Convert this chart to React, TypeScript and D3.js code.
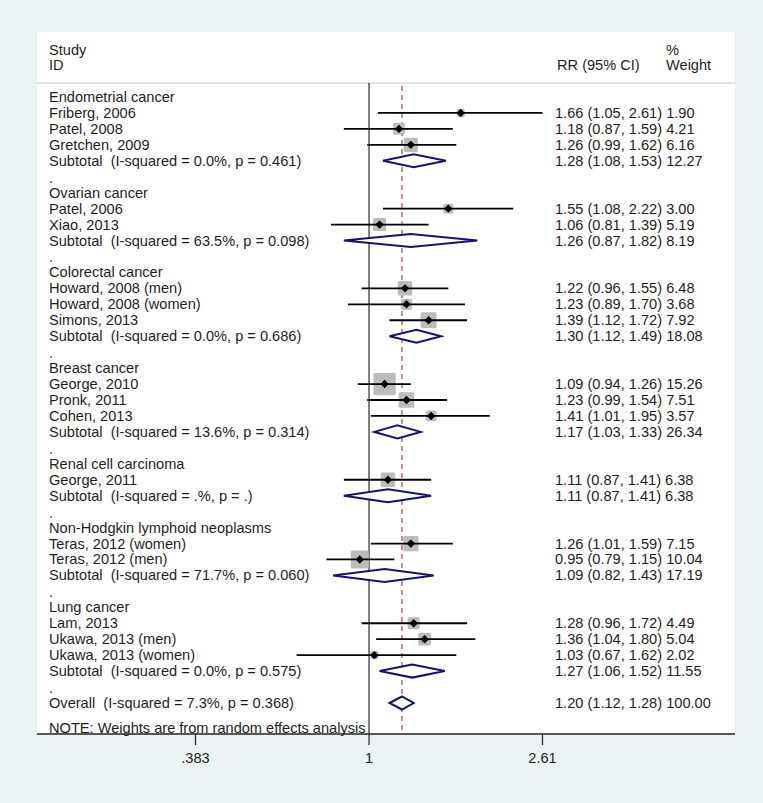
import React from "react";
import * as d3 from "d3";

const groupNames = [
  "Endometrial cancer",
  "Ovarian cancer",
  "Colorectal cancer",
  "Breast cancer",
  "Renal cell carcinoma",
  "Non-Hodgkin lymphoid neoplasms",
  "Lung cancer",
];

const studyLabels = [
  "Friberg, 2006", "Patel, 2008", "Gretchen, 2009",
  "Patel, 2006", "Xiao, 2013",
  "Howard, 2008 (men)", "Howard, 2008 (women)", "Simons, 2013",
  "George, 2010", "Pronk, 2011", "Cohen, 2013",
  "George, 2011",
  "Teras, 2012 (women)", "Teras, 2012 (men)",
  "Lam, 2013", "Ukawa, 2013 (men)", "Ukawa, 2013 (women)",
];
const studyGroup = [0, 0, 0, 1, 1, 2, 2, 2, 3, 3, 3, 4, 5, 5, 6, 6, 6];
const studyRR = [1.66, 1.18, 1.26, 1.55, 1.06, 1.22, 1.23, 1.39, 1.09, 1.23, 1.41, 1.11, 1.26, 0.95, 1.28, 1.36, 1.03];
const studyLo = [1.05, 0.87, 0.99, 1.08, 0.81, 0.96, 0.89, 1.12, 0.94, 0.99, 1.01, 0.87, 1.01, 0.79, 0.96, 1.04, 0.67];
const studyHi = [2.61, 1.59, 1.62, 2.22, 1.39, 1.55, 1.70, 1.72, 1.26, 1.54, 1.95, 1.41, 1.59, 1.15, 1.72, 1.80, 1.62];
const studyWeight = [1.90, 4.21, 6.16, 3.00, 5.19, 6.48, 3.68, 7.92, 15.26, 7.51, 3.57, 6.38, 7.15, 10.04, 4.49, 5.04, 2.02];

const subLabels = [
  "Subtotal  (I-squared = 0.0%, p = 0.461)",
  "Subtotal  (I-squared = 63.5%, p = 0.098)",
  "Subtotal  (I-squared = 0.0%, p = 0.686)",
  "Subtotal  (I-squared = 13.6%, p = 0.314)",
  "Subtotal  (I-squared = .%, p = .)",
  "Subtotal  (I-squared = 71.7%, p = 0.060)",
  "Subtotal  (I-squared = 0.0%, p = 0.575)",
];
const subRR = [1.28, 1.26, 1.30, 1.17, 1.11, 1.09, 1.27];
const subLo = [1.08, 0.87, 1.12, 1.03, 0.87, 0.82, 1.06];
const subHi = [1.53, 1.82, 1.49, 1.33, 1.41, 1.43, 1.52];
const subWeight = [12.27, 8.19, 18.08, 26.34, 6.38, 17.19, 11.55];

const overallLabel = "Overall  (I-squared = 7.3%, p = 0.368)";
const overallRR = 1.20;
const overallLo = 1.12;
const overallHi = 1.28;
const overallWeight = 100.0;

const axisTicks = [0.383, 1, 2.61];
const axisTickLabels = [".383", "1", "2.61"];
const noteText = "NOTE: Weights are from random effects analysis";

type Row =
  | { kind: "head"; label: string }
  | { kind: "study"; label: string; rr: number; lo: number; hi: number; w: number }
  | { kind: "sub"; label: string; rr: number; lo: number; hi: number; w: number }
  | { kind: "dot" };

function buildRows(): Row[] {
  const rows: Row[] = [];
  groupNames.forEach((g, gi) => {
    rows.push({ kind: "head", label: g });
    studyLabels.forEach((s, si) => {
      if (studyGroup[si] === gi)
        rows.push({ kind: "study", label: s, rr: studyRR[si], lo: studyLo[si], hi: studyHi[si], w: studyWeight[si] });
    });
    rows.push({ kind: "sub", label: subLabels[gi], rr: subRR[gi], lo: subLo[gi], hi: subHi[gi], w: subWeight[gi] });
    rows.push({ kind: "dot" });
  });
  rows.push({ kind: "sub", label: overallLabel, rr: overallRR, lo: overallLo, hi: overallHi, w: overallWeight });
  return rows;
}

const fmt = (v: number) => v.toFixed(2);

export default function App() {
  const W = 763, H = 803;
  const panel = { x0: 37, x1: 735, y0: 32, y1: 734 };
  const headerLineY = 83;
  const rows = buildRows();
  const rowY = d3.scaleLinear().domain([0, 38]).range([97, 703]);
  const x = d3.scaleLog().domain([0.383, 2.61]).range([195.5, 542.5]);
  const textX = 49;
  const ciX = 555;
  const font = "'Liberation Sans', Arial, Helvetica, sans-serif";
  const fs = 14.6;
  const textColor = "#1e1e1e";
  const boxK = 5.7;
  const navy = "#14146e";

  return (
    <svg width={W} height={H} style={{ position: "absolute", left: 0, top: 0, display: "block" }}>
      <rect x={0} y={0} width={W} height={H} fill="#eaf2f3" />
      <rect x={panel.x0} y={panel.y0} width={panel.x1 - panel.x0} height={panel.y1 - panel.y0} fill="#ffffff" />

      <g fontFamily={font} fontSize={fs} fill={textColor}>
        <text x={textX} y={50} dominantBaseline="central">Study</text>
        <text x={textX} y={65} dominantBaseline="central">ID</text>
        <text x={ciX + 2} y={65} dominantBaseline="central">RR (95% CI)</text>
        <text x={666} y={50} dominantBaseline="central">%</text>
        <text x={666} y={65} dominantBaseline="central">Weight</text>
      </g>
      <line x1={panel.x0} x2={panel.x1} y1={headerLineY} y2={headerLineY} stroke="#c4c8c8" strokeWidth={1.2} />

      {/* null line */}
      <line x1={x(1)} x2={x(1)} y1={headerLineY} y2={panel.y1} stroke="#2a2a2a" strokeWidth={1.2} />
      {/* overall dashed line */}
      <line x1={x(overallRR)} x2={x(overallRR)} y1={headerLineY + 3} y2={panel.y1} stroke="#a84848" strokeWidth={1.2} strokeDasharray="5,4" />

      {rows.map((r, i) => {
        const y = rowY(i);
        if (r.kind === "dot") {
          return (
            <text key={i} x={textX} y={y + 1} dominantBaseline="central" fontFamily={font} fontSize={fs} fill={textColor}>.</text>
          );
        }
        if (r.kind === "head") {
          return (
            <text key={i} x={textX} y={y} dominantBaseline="central" fontFamily={font} fontSize={fs} fill={textColor}>{r.label}</text>
          );
        }
        const ci = `${fmt(r.rr)} (${fmt(r.lo)}, ${fmt(r.hi)}) ${fmt(r.w)}`;
        const labelEl = (
          <text x={textX} y={y} dominantBaseline="central" fontFamily={font} fontSize={fs} fill={textColor} style={{ whiteSpace: "pre" }}>{r.label}</text>
        );
        const ciEl = (
          <text x={ciX} y={y} dominantBaseline="central" fontFamily={font} fontSize={fs} fill={textColor}>{ci}</text>
        );
        if (r.kind === "study") {
          const s = boxK * Math.sqrt(r.w);
          const cx = x(r.rr);
          const d = 4.2;
          return (
            <g key={i}>
              {labelEl}
              {ciEl}
              <rect x={cx - s / 2} y={y - s / 2} width={s} height={s} fill="#bcbcbc" rx={1.5} />
              <line x1={x(r.lo)} x2={x(r.hi)} y1={y} y2={y} stroke="#000" strokeWidth={1.8} />
              <path d={`M${cx - d},${y}L${cx},${y - d}L${cx + d},${y}L${cx},${y + d}Z`} fill="#000" />
            </g>
          );
        }
        const h = 6.5;
        const xl = x(r.lo), xr = x(r.hi), xm = x(r.rr);
        return (
          <g key={i}>
            {labelEl}
            {ciEl}
            <path d={`M${xl},${y}L${xm},${y - h}L${xr},${y}L${xm},${y + h}Z`} fill="#fff" stroke={navy} strokeWidth={2} strokeLinejoin="miter" />
          </g>
        );
      })}

      <text x={textX} y={728} dominantBaseline="central" fontFamily={font} fontSize={fs} fill={textColor}>{noteText}</text>

      {/* axis */}
      <line x1={panel.x0} x2={panel.x1} y1={panel.y1} y2={panel.y1} stroke="#222" strokeWidth={1.3} />
      {axisTicks.map((t, i) => (
        <g key={i}>
          <line x1={x(t)} x2={x(t)} y1={panel.y1} y2={panel.y1 + 11} stroke="#222" strokeWidth={1.2} />
          <text x={x(t)} y={758} textAnchor="middle" dominantBaseline="central" fontFamily={font} fontSize={fs} fill={textColor}>{axisTickLabels[i]}</text>
        </g>
      ))}
    </svg>
  );
}
